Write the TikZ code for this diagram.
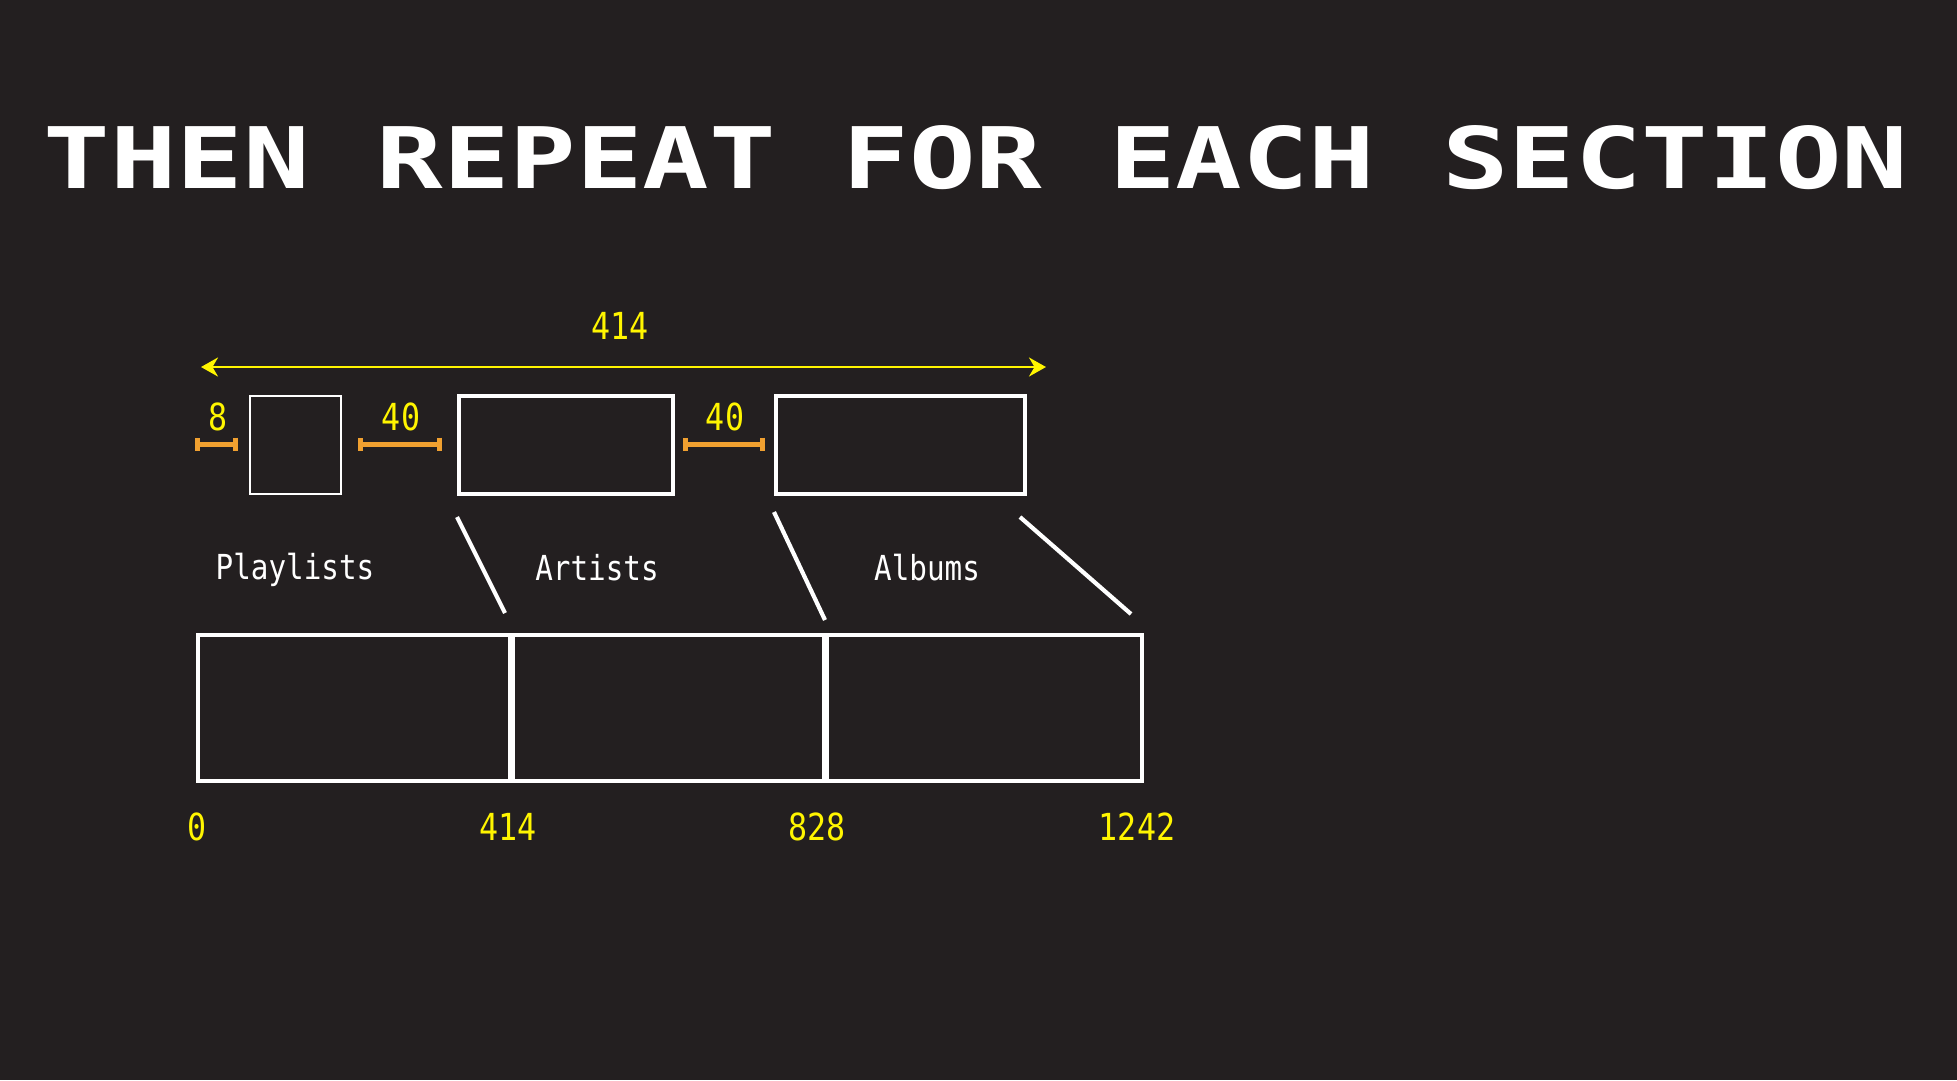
\documentclass[tikz,border=0pt]{standalone}
\usepackage{fontspec}
\usetikzlibrary{arrows.meta}
\newfontfamily\plexmono[FakeStretch=0.85]{DejaVu Sans Mono}
\newfontfamily\pixelfont{DejaVu Sans Mono}
\definecolor{bgdark}{HTML}{231F20}
\definecolor{dimyellow}{HTML}{FFF500}
\definecolor{gaporange}{HTML}{F0A030}

\begin{document}
\begin{tikzpicture}[
    x=0.1mm, y=-0.1mm,
    slot/.style={rectangle, draw=white, line width=0.38mm, minimum height=9.8mm, inner sep=0pt},
    section/.style={rectangle, draw=white, line width=0.45mm, minimum height=14.6mm, inner sep=0pt},
    tablabel/.style={text=white, inner sep=0pt, font=\plexmono\fontsize{9.8}{11}\selectfont},
    numtext/.style={text=dimyellow, inner sep=0pt, font=\plexmono\fontsize{10.6}{12}\selectfont},
    gapbar/.style={draw=gaporange, line width=0.5mm, {Bar[width=1.3mm]}-{Bar[width=1.3mm]}},
    widtharrow/.style={draw=dimyellow, line width=0.28mm, {Stealth[length=1.7mm, width=1.9mm]}-{Stealth[length=1.7mm, width=1.9mm]}},
    slant/.style={draw=white, line width=0.42mm}
]
    \fill[bgdark] (0,0) rectangle (1957,1080);
    \useasboundingbox (0,0) rectangle (1957,1080);

    \node[inner sep=0pt, text=white] (title) at (976,158)
        {\resizebox{186.5mm}{6.3mm}{\pixelfont\bfseries THEN REPEAT FOR EACH SECTION}};

    % overall width
    \coordinate (wl) at (201,367);
    \coordinate (wr) at (1046,367);
    \draw[widtharrow] (wl) -- (wr);
    \node[numtext] (w414) at (620,326) {414};

    % the small boxes
    \node[slot, line width=0.2mm, minimum width=9.1mm] (playbox) at (295.5,445) {};
    \node[slot, minimum width=21.4mm] (artbox) at (566,445) {};
    \node[slot, minimum width=24.9mm] (albbox) at (900.5,445) {};

    % gaps
    \coordinate (g1l) at (195,444);
    \coordinate (g1r) at (238,444);
    \coordinate (g2l) at (358,444);
    \coordinate (g2r) at (442,444);
    \coordinate (g3l) at (683,444);
    \coordinate (g3r) at (765,444);
    \draw[gapbar] (g1l) -- (g1r);
    \draw[gapbar] (g2l) -- (g2r);
    \draw[gapbar] (g3l) -- (g3r);
    \node[numtext] (g8) at (218,417) {8};
    \node[numtext] (g40a) at (401,417) {40};
    \node[numtext] (g40b) at (725,417) {40};

    % section names
    \node[tablabel] (playlists) at (295,570) {Playlists};
    \node[tablabel] (artists) at (597,568) {Artists};
    \node[tablabel] (albums) at (927,568) {Albums};

    % slanted marks
    \coordinate (s1a) at (457,517);
    \coordinate (s1b) at (505,613);
    \coordinate (s2a) at (774,512);
    \coordinate (s2b) at (825,620);
    \coordinate (s3a) at (1020,517);
    \coordinate (s3b) at (1131,614);
    \draw[slant] (s1a) -- (s1b);
    \draw[slant] (s2a) -- (s2b);
    \draw[slant] (s3a) -- (s3b);

    % the long strip
    \node[section, minimum width=31.2mm] (sec1) at (354,708) {};
    \node[section, minimum width=31.1mm] (sec2) at (668.5,708) {};
    \node[section, minimum width=31.5mm] (sec3) at (984.5,708) {};

    \node[numtext] (x0) at (197,827) {0};
    \node[numtext] (x414) at (508,827) {414};
    \node[numtext] (x828) at (817,827) {828};
    \node[numtext] (x1242) at (1137,827) {1242};
\end{tikzpicture}
\end{document}
